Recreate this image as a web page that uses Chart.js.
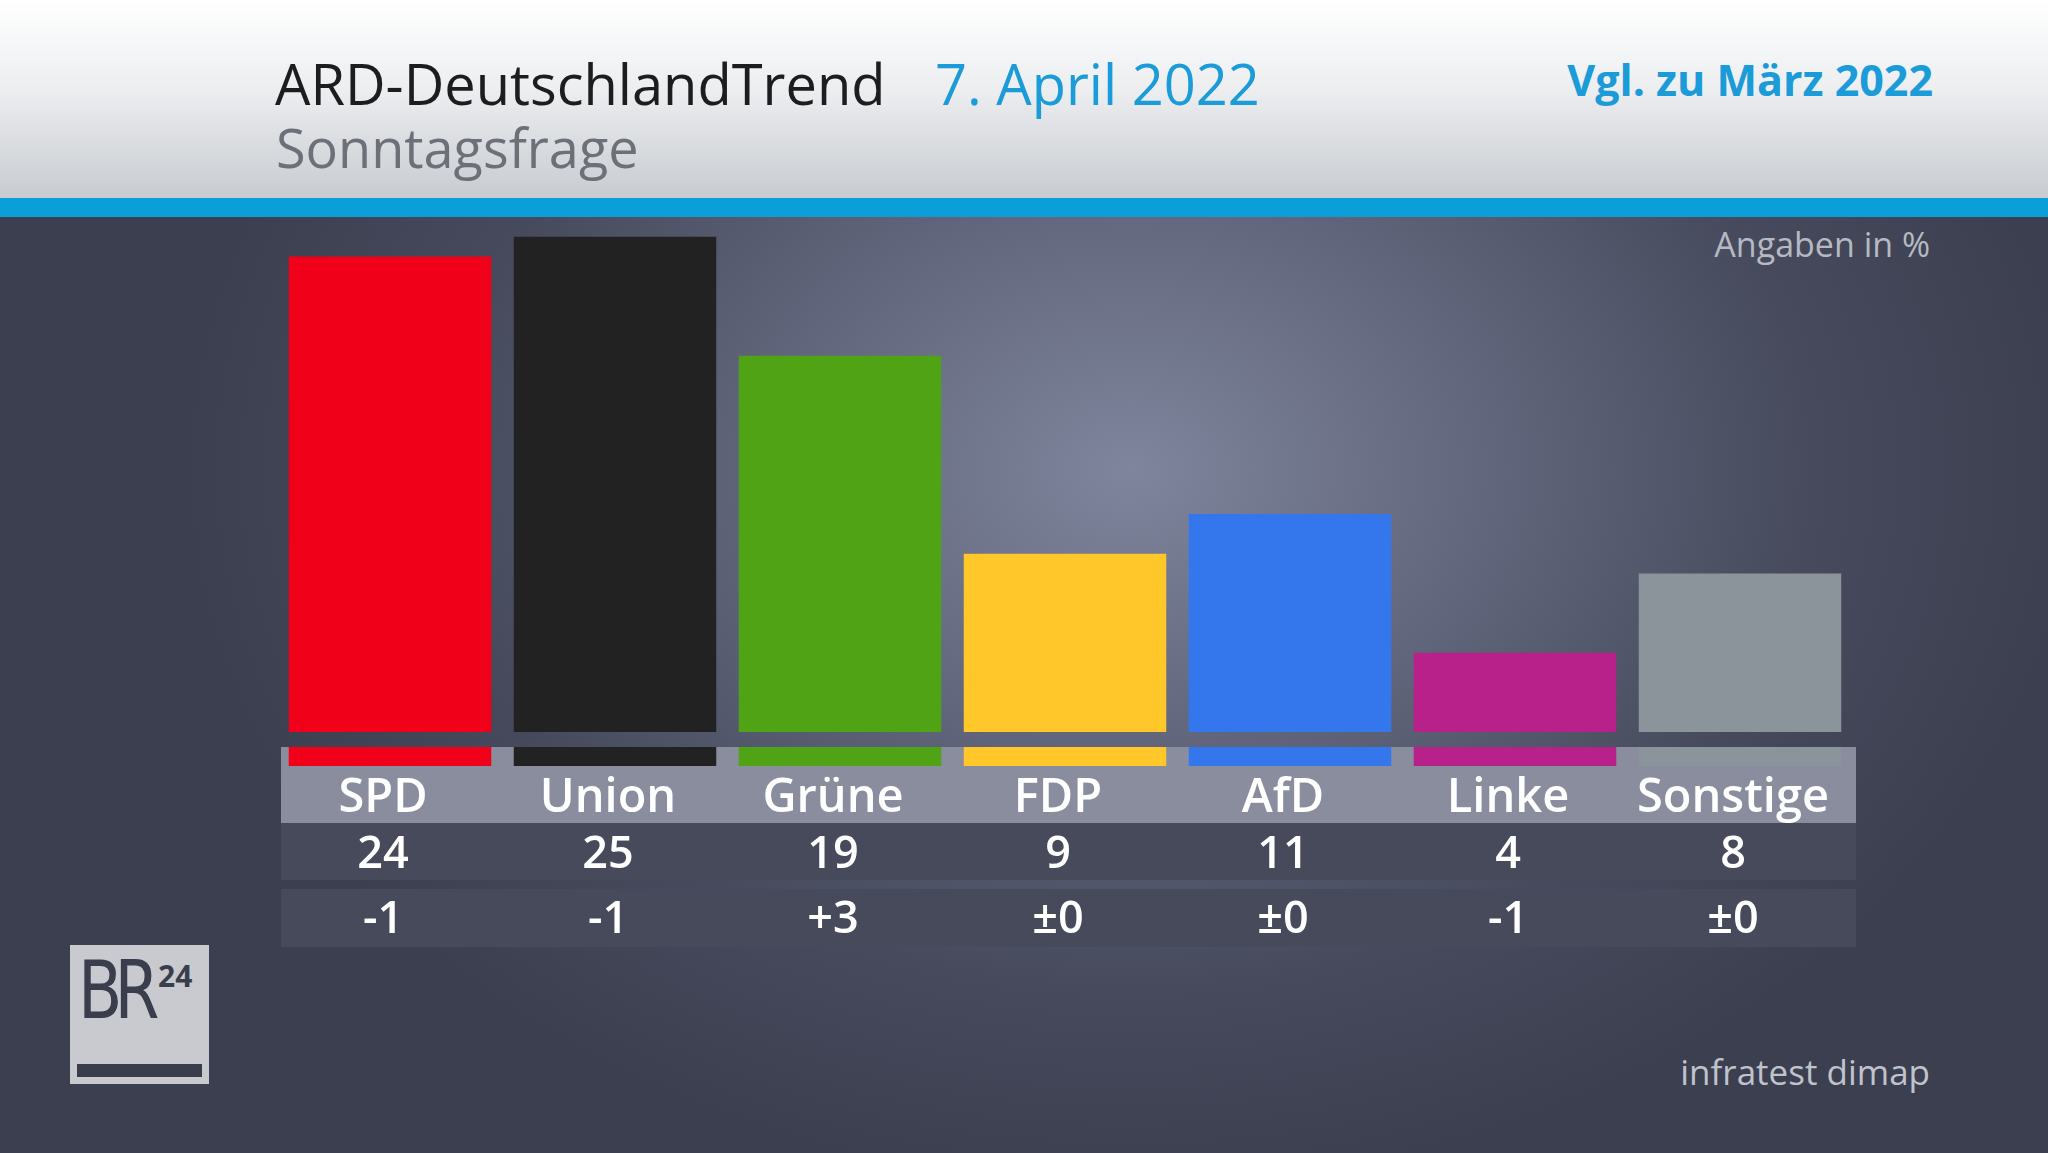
<!DOCTYPE html>
<html lang="de">
<head>
<meta charset="utf-8">
<title>ARD-DeutschlandTrend – Sonntagsfrage</title>
<script src="https://cdn.jsdelivr.net/npm/chart.js@4/dist/chart.umd.min.js"></script>
<style>
  html,body{margin:0;padding:0;}
  body{width:2048px;height:1153px;overflow:hidden;position:relative;font-family:"Open Sans","Noto Sans",sans-serif;
    background:radial-gradient(ellipse 950px 720px at 1130px 470px,#7f859c 0%,#61667c 38%,#464a5c 72%,#3b3f50 100%);}
  #head{position:absolute;left:0;top:0;width:2048px;height:198px;background:linear-gradient(#ffffff 0%,#eceef0 45%,#c8cbd0 100%);}
  #stripe{position:absolute;left:0;top:198px;width:2048px;height:19px;background:#0a9fd8;}
  .t{position:absolute;line-height:1;white-space:nowrap;}
  #logo{position:absolute;left:70px;top:945px;width:139px;height:139px;background:#c9cacf;overflow:hidden;}
  #chart{position:absolute;left:0;top:0;}
</style>
</head>
<body>
<div id="head"></div>
<div id="stripe"></div>
<div class="t" style="left:275px;top:55px;font-size:56px;color:#1d1d1f;">ARD-DeutschlandTrend</div>
<div class="t" style="left:935px;top:55px;font-size:56px;color:#1b9bd7;">7. April 2022</div>
<div class="t" style="right:115px;top:58px;font-size:43px;font-weight:700;color:#1b9bd7;">Vgl. zu März 2022</div>
<div class="t" style="left:276px;top:120px;font-size:54px;color:#6d7079;">Sonntagsfrage</div>
<div class="t" style="right:118px;top:227px;font-size:34px;color:#b5b9c3;">Angaben in %</div>
<div class="t" style="right:118px;top:1054px;font-size:35px;color:#c0c3cc;">infratest dimap</div>
<div id="logo">
  <div class="t" style="left:8px;top:5px;font-size:81px;letter-spacing:-10px;color:#3a3d4c;font-family:'DejaVu Sans','Noto Sans',sans-serif;transform:scaleX(0.8);transform-origin:left top;">BR</div>
  <div class="t" style="left:88px;top:16px;font-size:30px;font-weight:700;color:#3a3d4c;">24</div>
  <div style="position:absolute;left:7px;top:119px;width:125px;height:13px;background:#3a3d4c;"></div>
</div>
<canvas id="chart" width="2048" height="1153"></canvas>
<script>
const parties = ['SPD','Union','Grüne','FDP','AfD','Linke','Sonstige'];
const shares  = [24, 25, 19, 9, 11, 4, 8];
const changes = ['-1','-1','+3','±0','±0','-1','±0'];
const colors  = ['#f00019','#222222','#51a316','#ffc72a','#3477ec','#b8208a','#8a949a'];

const yMax = 26;
const yMin = -1.72;

const tablePlugin = {
  id:'table',
  beforeDatasetsDraw(chart){
    const {ctx, chartArea:a} = chart;
    ctx.save();
    ctx.fillStyle = '#898d9e';
    ctx.fillRect(281, a.bottom-19, 1575, 76);
    ctx.restore();
  },
  afterDatasetsDraw(chart){
    const {ctx, chartArea:a, scales:{x}} = chart;
    ctx.save();
    // gap across the bars just above the label band
    ctx.clearRect(270, a.bottom-34, 1600, 15);
    ctx.fillStyle = '#474a5b';
    ctx.fillRect(281, a.bottom+57, 1575, 57);
    ctx.fillRect(281, a.bottom+123, 1575, 58);
    ctx.fillStyle = '#ffffff';
    ctx.textAlign = 'center';
    ctx.textBaseline = 'alphabetic';
    parties.forEach((p,i)=>{
      const cx = x.getPixelForValue(i) - 7;
      ctx.font = '600 47px "Open Sans", sans-serif';
      ctx.fillText(p, cx, a.bottom+46);
      ctx.font = '600 45px "Open Sans", sans-serif';
      ctx.fillText(String(shares[i]), cx, a.bottom+102);
      ctx.fillText(changes[i], cx, a.bottom+167);
    });
    ctx.restore();
  }
};

new Chart(document.getElementById('chart').getContext('2d'), {
  type:'bar',
  data:{
    labels: parties,
    datasets:[{
      data: shares,
      backgroundColor: colors,
      borderWidth: 0,
      base: yMin,
      categoryPercentage: 1,
      barPercentage: 0.9
    }]
  },
  options:{
    responsive:false,
    animation:false,
    layout:{padding:{left:277.5, right:195.5, top:217, bottom:387}},
    plugins:{legend:{display:false}, tooltip:{enabled:false}},
    scales:{
      x:{display:false},
      y:{display:false, min:yMin, max:yMax}
    }
  },
  plugins:[tablePlugin]
});
</script>
</body>
</html>
